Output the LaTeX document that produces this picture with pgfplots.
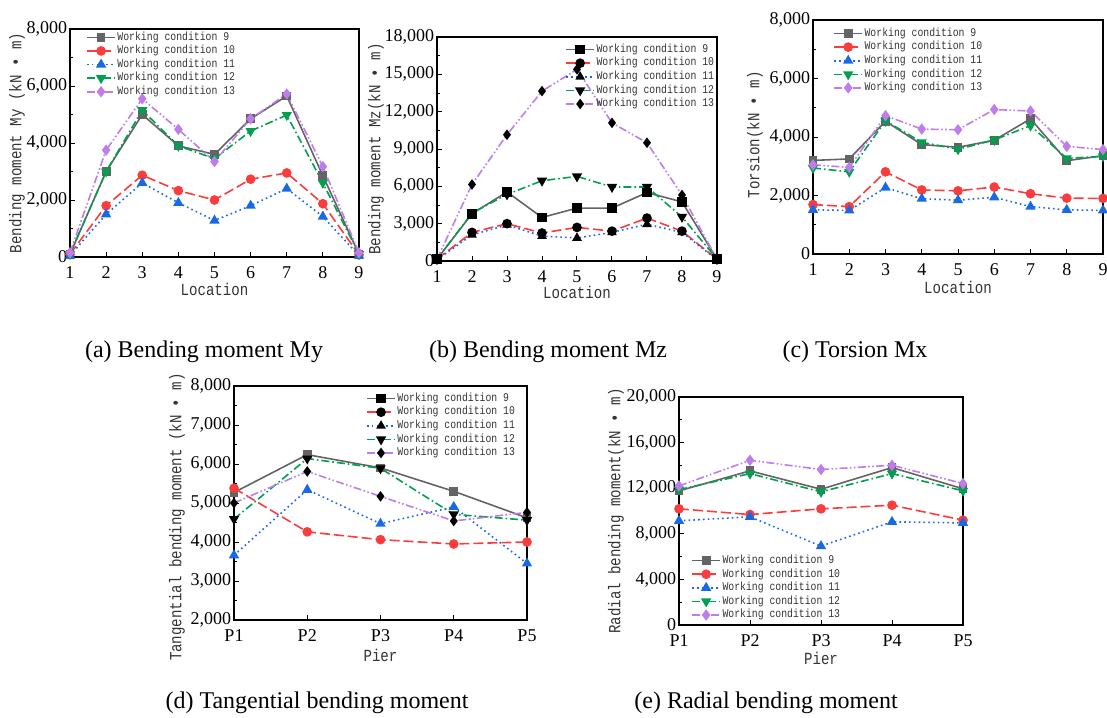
\documentclass[border=0pt]{standalone}
\usepackage{fontspec}
\setmainfont{Liberation Serif}
\newfontfamily\monof[FakeStretch=0.83]{Liberation Mono}
\usepackage{pgfplots}
\pgfplotsset{compat=1.18}

\definecolor{wcgray}{RGB}{100,100,100}
\definecolor{wcred}{RGB}{250,60,60}
\definecolor{wcblue}{RGB}{25,105,230}
\definecolor{wcgreen}{RGB}{0,160,80}
\definecolor{wcviolet}{RGB}{190,125,235}

\pgfplotsset{
  panel/.style={
    scale only axis, clip=false,
    axis line style={line width=0.6pt, black},
    tick align=inside, xtick pos=left, ytick pos=left,
    tick style={black, line width=0.5pt},
    major tick length=2.5pt, minor tick length=1.5pt,
    minor y tick num=1,
    tick label style={font=\fontsize{9}{10}\selectfont},
    yticklabel style={inner xsep=1.2pt},
    xticklabel style={yshift=-1.2pt},
    label style={font=\monof\fontsize{8.5}{9}\selectfont, text=black!80},
    /pgf/number format/assume math mode=true,
    /pgf/number format/1000 sep={,},
    scaled y ticks=false,
    legend cell align=left,
    legend style={draw=none, fill=none, anchor=north west,
      font=\monof\fontsize{5.9}{7}\selectfont, text=black!80,
      inner sep=0pt, row sep=0pt,
      nodes={inner sep=0.8pt, text height=4pt, text depth=1.2pt}},
    legend image code/.code={\draw[mark repeat=2,mark phase=2]
      plot coordinates {(0pt,0pt)(7pt,0pt)(14pt,0pt)};},
    every axis plot/.append style={line width=0.8pt, mark size=2pt},
  },
  ylab/.style 2 args={ylabel style={
    at={([xshift=-#1]rel axis cs:0,#2)}, anchor=center}},
  xlab/.style={xlabel style={
    at={([yshift=-#1]rel axis cs:0.5,0)}, anchor=center}},
  loc/.style={xmin=1, xmax=9, xtick={1,...,9}, xlabel={Location}},
  pier/.style={xmin=1, xmax=5, xtick={1,...,5},
    xticklabels={P1,P2,P3,P4,P5}, xlabel={Pier}},
  wc9/.style={color=wcgray, solid, mark=square*, mark options={solid, scale=0.9}},
  wc10/.style={color=wcred, dash pattern=on 5pt off 2pt, mark=*, mark options={solid}},
  wc11/.style={color=wcblue, dash pattern=on 0.8pt off 1.6pt, mark=triangle*, mark options={solid, scale=1.1}},
  wc12/.style={color=wcgreen, dash pattern=on 4pt off 1.5pt on 0.8pt off 1.5pt, mark=triangle*, mark options={solid, rotate=180, scale=1.1}},
  wc13/.style={color=wcviolet, dash pattern=on 4pt off 1.2pt on 0.8pt off 1.2pt on 0.8pt off 1.2pt, mark=diamond*, mark options={solid, scale=1.1}},
  blk/.style={mark options={solid, fill=black, draw=black}},
  blkdown/.style={mark options={solid, fill=black, draw=black, rotate=180, scale=1.1}},
}

\begin{document}
\begin{tikzpicture}
\path[use as bounding box] (0,0) rectangle (553.5pt,-358.5pt);

% (a) bending moment My
\begin{axis}[panel, loc, at={(35pt,-128.5pt)}, anchor=south west,
  width=144.5pt, height=114pt, ylab={26.5pt}{0.5}, xlab={16pt},
  ymin=0, ymax=8000, ytick={0,2000,...,8000},
  ylabel={Bending moment My (kN • m)},
  legend style={at={(0.055,0.995)}}]
  \addplot[wc9] coordinates {(1,100)(2,3000)(3,5000)(4,3900)(5,3600)(6,4850)(7,5650)(8,2850)(9,100)};
  \addlegendentry{Working condition 9}
  \addplot[wc10] coordinates {(1,100)(2,1800)(3,2870)(4,2330)(5,2000)(6,2730)(7,2950)(8,1870)(9,80)};
  \addlegendentry{Working condition 10}
  \addplot[wc11] coordinates {(1,50)(2,1500)(3,2600)(4,1900)(5,1280)(6,1800)(7,2400)(8,1420)(9,50)};
  \addlegendentry{Working condition 11}
  \addplot[wc12] coordinates {(1,100)(2,3000)(3,5150)(4,3900)(5,3450)(6,4420)(7,4980)(8,2600)(9,100)};
  \addlegendentry{Working condition 12}
  \addplot[wc13] coordinates {(1,150)(2,3750)(3,5550)(4,4480)(5,3350)(6,4850)(7,5720)(8,3170)(9,150)};
  \addlegendentry{Working condition 13}
\end{axis}

% (b) bending moment Mz
\begin{axis}[panel, loc, at={(218.5pt,-130.5pt)}, anchor=south west,
  width=140pt, height=112pt, ylab={30.5pt}{0.5}, xlab={15.5pt},
  ymin=0, ymax=18000, ytick={0,3000,...,18000},
  ylabel={Bending moment Mz(kN • m)},
  legend style={at={(0.457,0.976)}}]
  \addplot[wc9, blk] coordinates {(1,150)(2,3800)(3,5550)(4,3500)(5,4250)(6,4250)(7,5500)(8,4750)(9,150)};
  \addlegendentry{Working condition 9}
  \addplot[wc10, blk] coordinates {(1,150)(2,2300)(3,3000)(4,2250)(5,2700)(6,2400)(7,3450)(8,2400)(9,150)};
  \addlegendentry{Working condition 10}
  \addplot[wc11, blk] coordinates {(1,100)(2,2100)(3,2900)(4,2000)(5,1850)(6,2300)(7,2950)(8,2300)(9,100)};
  \addlegendentry{Working condition 11}
  \addplot[wc12, blkdown] coordinates {(1,150)(2,3850)(3,5350)(4,6450)(5,6800)(6,5950)(7,5950)(8,3550)(9,150)};
  \addlegendentry{Working condition 12}
  \addplot[wc13, blk] coordinates {(1,150)(2,6150)(3,10150)(4,13650)(5,15400)(6,11100)(7,9500)(8,5300)(9,150)};
  \addlegendentry{Working condition 13}
\end{axis}

% (c) torsion Mx
\begin{axis}[panel, loc, at={(406.5pt,-127pt)}, anchor=south west,
  width=145pt, height=117pt, ylab={29pt}{0.51}, xlab={16.5pt},
  ymin=0, ymax=8000, ytick={0,2000,...,8000},
  ylabel={Torsion(kN • m)},
  legend style={at={(0.069,0.973)}}]
  \addplot[wc9] coordinates {(1,3200)(2,3250)(3,4540)(4,3740)(5,3650)(6,3890)(7,4620)(8,3190)(9,3360)};
  \addlegendentry{Working condition 9}
  \addplot[wc10] coordinates {(1,1690)(2,1620)(3,2810)(4,2190)(5,2160)(6,2290)(7,2060)(8,1910)(9,1900)};
  \addlegendentry{Working condition 10}
  \addplot[wc11] coordinates {(1,1510)(2,1490)(3,2270)(4,1890)(5,1840)(6,1940)(7,1620)(8,1510)(9,1490)};
  \addlegendentry{Working condition 11}
  \addplot[wc12] coordinates {(1,2940)(2,2810)(3,4550)(4,3820)(5,3580)(6,3900)(7,4390)(8,3270)(9,3340)};
  \addlegendentry{Working condition 12}
  \addplot[wc13] coordinates {(1,3050)(2,2960)(3,4730)(4,4270)(5,4250)(6,4940)(7,4890)(8,3680)(9,3570)};
  \addlegendentry{Working condition 13}
\end{axis}

% (d) tangential bending moment
\begin{axis}[panel, pier, at={(117pt,-310pt)}, anchor=south west,
  width=146.5pt, height=117pt, ylab={28.5pt}{0.44}, xlab={17.5pt},
  ymin=2000, ymax=8000, ytick={2000,3000,...,8000},
  ylabel={Tangential bending moment (kN • m)},
  legend style={at={(0.45,0.977)}}]
  \addplot[wc9, forget plot] coordinates {(1,5270)(2,6240)(3,5900)(4,5300)(5,4620)};
  \addplot[wc10, forget plot] coordinates {(1,5380)(2,4260)(3,4060)(4,3950)(5,4000)};
  \addplot[wc11, forget plot] coordinates {(1,3660)(2,5340)(3,4470)(4,4900)(5,3450)};
  \addplot[wc12, blkdown, forget plot] coordinates {(1,4590)(2,6140)(3,5890)(4,4710)(5,4560)};
  \addplot[wc13, blk, forget plot] coordinates {(1,5000)(2,5810)(3,5170)(4,4540)(5,4760)};
  \addlegendimage{wc9, blk}\addlegendentry{Working condition 9}
  \addlegendimage{wc10, blk}\addlegendentry{Working condition 10}
  \addlegendimage{wc11, blk}\addlegendentry{Working condition 11}
  \addlegendimage{wc12, blkdown}\addlegendentry{Working condition 12}
  \addlegendimage{wc13, blk}\addlegendentry{Working condition 13}
\end{axis}

% (e) radial bending moment
\begin{axis}[panel, pier, at={(339.5pt,-312.5pt)}, anchor=south west,
  width=142pt, height=114pt, ylab={31.5pt}{0.5}, xlab={16.5pt},
  ymin=0, ymax=20000, ytick={0,4000,...,20000},
  ylabel={Radial bending moment(kN • m)},
  legend style={at={(0.042,0.314)}}]
  \addplot[wc9] coordinates {(1,11770)(2,13520)(3,11910)(4,13810)(5,11950)};
  \addlegendentry{Working condition 9}
  \addplot[wc10] coordinates {(1,10190)(2,9690)(3,10190)(4,10510)(5,9200)};
  \addlegendentry{Working condition 10}
  \addplot[wc11] coordinates {(1,9140)(2,9490)(3,6920)(4,9050)(5,8960)};
  \addlegendentry{Working condition 11}
  \addplot[wc12] coordinates {(1,11880)(2,13280)(3,11680)(4,13280)(5,11770)};
  \addlegendentry{Working condition 12}
  \addplot[wc13] coordinates {(1,12200)(2,14450)(3,13640)(4,14010)(5,12410)};
  \addlegendentry{Working condition 13}
\end{axis}

\begin{scope}[font=\fontsize{12}{14}\selectfont]
  \node at (102pt,-176pt) {(a) Bending moment My};
  \node at (274pt,-176pt) {(b) Bending moment Mz};
  \node at (427.5pt,-176pt) {(c) Torsion Mx};
  \node at (158.5pt,-351.5pt) {(d) Tangential bending moment};
  \node at (383pt,-351.5pt) {(e) Radial bending moment};
\end{scope}
\end{tikzpicture}
\end{document}
